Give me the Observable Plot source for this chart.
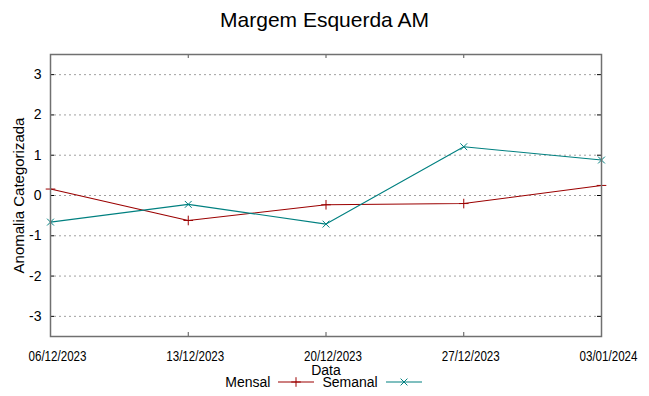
<!DOCTYPE html>
<html>
<head>
<meta charset="utf-8">
<script src="https://cdn.jsdelivr.net/npm/d3@7"></script>
<script src="https://cdn.jsdelivr.net/npm/@observablehq/plot@0.6"></script>
<style>
  html, body { margin: 0; padding: 0; background: #fff; }
  body { width: 649px; height: 396px; overflow: hidden; font-family: "Liberation Sans", Arial, sans-serif; }
  #title { height: 40px; line-height: 40px; text-align: center; font-size: 21px; color: #000; }
  #chart { height: 334px; overflow: visible; position: relative; z-index: 1; }
  #chart svg { display: block; }
  #legend { position: relative; z-index: 2; height: 16px; display: flex; justify-content: center; align-items: center; font-size: 14px; color: #000; margin-left: 6px; }
  #legend span { line-height: 16px; }
  #legend svg { margin: 0 8px; }
</style>
</head>
<body>
<div id="title">Margem Esquerda AM</div>
<div id="chart"></div>
<div id="legend"></div>
<script>
const dates = ["2023-12-06", "2023-12-13", "2023-12-20", "2023-12-27", "2024-01-03"];
const mensal = [0.16, -0.62, -0.23, -0.20, 0.25];
const semanal = [-0.66, -0.22, -0.71, 1.21, 0.88];
const yTicks = [-3, -2, -1, 0, 1, 2, 3];
const seriesNames = ["Mensal", "Semanal"];
const seriesColors = ["#9b0000", "#008080"];
const seriesSymbols = ["plus", "times"];

const parse = d3.utcParse("%Y-%m-%d");
const xDates = dates.map(parse);
const rows = [];
[mensal, semanal].forEach((vals, s) => {
  vals.forEach((v, i) => rows.push({date: xDates[i], value: v, series: seriesNames[s]}));
});

const W = 649, H = 342, mT = 14, mB = 46, mL = 50, mR = 48;
const plotW = W - mL - mR, plotH = H - mT - mB;
const fmt = d3.utcFormat("%d/%m/%Y");

const chart = Plot.plot({
  width: W, height: H,
  marginTop: mT, marginBottom: mB, marginLeft: mL, marginRight: mR,
  style: {fontFamily: "'Liberation Sans', Arial, sans-serif", color: "#000", background: "transparent"},
  x: {type: "utc", domain: [xDates[0], xDates[xDates.length - 1]]},
  y: {domain: [-3.5, 3.5]},
  color: {domain: seriesNames, range: seriesColors},
  symbol: {domain: seriesNames, range: seriesSymbols},
  marks: [
    Plot.ruleY(yTicks, {y: d => d, stroke: "#a0a0a0", strokeWidth: 1, strokeDasharray: "2,3", insetLeft: 4, insetRight: 4}),
    Plot.line(rows, {x: "date", y: "value", z: "series", stroke: "series", strokeWidth: 1.1}),
    Plot.dot(rows, {x: "date", y: "value", symbol: "series", stroke: "series", r: 3.2, strokeWidth: 1}),
    Plot.tickY(yTicks, {y: d => d, stroke: "#000", insetRight: plotW - 4}),
    Plot.tickY(yTicks, {y: d => d, stroke: "#000", insetLeft: plotW - 4}),
    Plot.tickX(xDates, {x: d => d, stroke: "#555", insetTop: plotH - 4}),
    Plot.tickX(xDates, {x: d => d, stroke: "#555", insetBottom: plotH - 4}),
    Plot.frame({stroke: "#707070", strokeWidth: 1.5}),
    Plot.axisX(xDates, {tickSize: 0, tickPadding: 15, tickFormat: fmt, dx: 7, fontSize: 14,
      className: "xticklabels", label: null}),
    Plot.axisX({ticks: [], label: "Data", labelAnchor: "center", labelArrow: "none", labelOffset: 38, fontSize: 14}),
    Plot.axisY(yTicks, {tickSize: 0, tickPadding: 9, fontSize: 14, tickFormat: d => String(d), label: null}),
    Plot.axisY({ticks: [], label: "Anomalia Categorizada", labelAnchor: "center", labelArrow: "none", labelOffset: 37, fontSize: 15})
  ]
});
document.getElementById("chart").appendChild(chart);

// condensed tick labels, as in the reference
chart.querySelectorAll(".xticklabels text").forEach(t => {
  t.setAttribute("textLength", 58);
  t.setAttribute("lengthAdjust", "spacingAndGlyphs");
});

// legend
const legend = document.getElementById("legend");
seriesNames.forEach((name, i) => {
  const span = document.createElement("span");
  span.textContent = name;
  legend.appendChild(span);
  const ns = "http://www.w3.org/2000/svg";
  const sw = document.createElementNS(ns, "svg");
  sw.setAttribute("width", 36); sw.setAttribute("height", 10);
  const ln = document.createElementNS(ns, "line");
  ln.setAttribute("x1", 0); ln.setAttribute("x2", 36); ln.setAttribute("y1", 5); ln.setAttribute("y2", 5);
  ln.setAttribute("stroke", seriesColors[i]); ln.setAttribute("stroke-width", 1.2);
  sw.appendChild(ln);
  const p = document.createElementNS(ns, "path");
  p.setAttribute("d", d3.symbol(seriesSymbols[i] === "plus" ? d3.symbolPlus : d3.symbolTimes, 32)());
  p.setAttribute("transform", "translate(18,5)");
  p.setAttribute("stroke", seriesColors[i]); p.setAttribute("fill", "none");
  sw.appendChild(p);
  legend.appendChild(sw);
});
</script>
</body>
</html>
